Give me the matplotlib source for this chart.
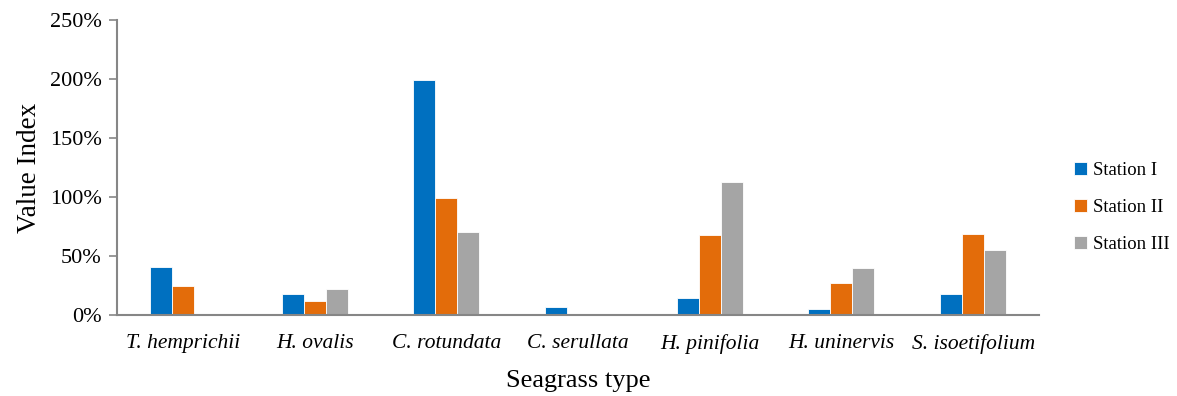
import numpy as np
import matplotlib.pyplot as plt
from matplotlib.ticker import FuncFormatter

plt.rcParams['font.family'] = ['Liberation Serif', 'DejaVu Serif']

# data (percent)
species = ['T. hemprichii', 'H. ovalis', 'C. rotundata', 'C. serullata',
           'H. pinifolia', 'H. uninervis', 'S. isoetifolium']
station1 = [41, 18, 199, 6.5, 14, 5, 17.5]
station2 = [25, 12, 99, 0, 68, 27, 69]
station3 = [0, 22, 70, 0, 113, 40, 55]
series_names = ['Station I', 'Station II', 'Station III']
colors = ['#0070C0', '#E36C0A', '#A5A5A5']

fig = plt.figure(figsize=(11.77, 3.96), dpi=100)
ax = fig.add_axes([117/1177, 1-315/396, (1039-117)/1177, (315-20)/396])

x = np.arange(len(species))
w = 0.167
for i, (vals, name, c) in enumerate(zip([station1, station2, station3], series_names, colors)):
    ax.bar(x + (i-1)*w, vals, w, color=c, label=name, edgecolor='white', linewidth=0.6)

ax.set_xlim(-0.5, len(species)-0.5)
ax.set_ylim(0, 250)
ax.set_yticks(np.arange(0, 251, 50))
ax.yaxis.set_major_formatter(FuncFormatter(lambda v, p: '%d%%' % v))
ax.set_xticks(x)
ax.set_xticklabels(species, style='italic', fontsize=15.5)
ax.tick_params(axis='x', length=0, pad=14)
ax.tick_params(axis='y', labelsize=16, length=6, color='#868686', width=1.2, direction='out', pad=5)

for s in ['top', 'right']:
    ax.spines[s].set_visible(False)
for s in ['left', 'bottom']:
    ax.spines[s].set_color('#868686')
    ax.spines[s].set_linewidth(1.5)

ax.set_ylabel('Value Index', fontsize=19.5, labelpad=6)
ax.set_xlabel('Seagrass type', fontsize=19, labelpad=11)

ax.legend(loc='center left', bbox_to_anchor=(1.02, 0.365), frameon=False, fontsize=13.5,
          handlelength=0.7, handleheight=0.7, handletextpad=0.3, labelspacing=1.05)

fig.savefig('out.png', dpi=100)
